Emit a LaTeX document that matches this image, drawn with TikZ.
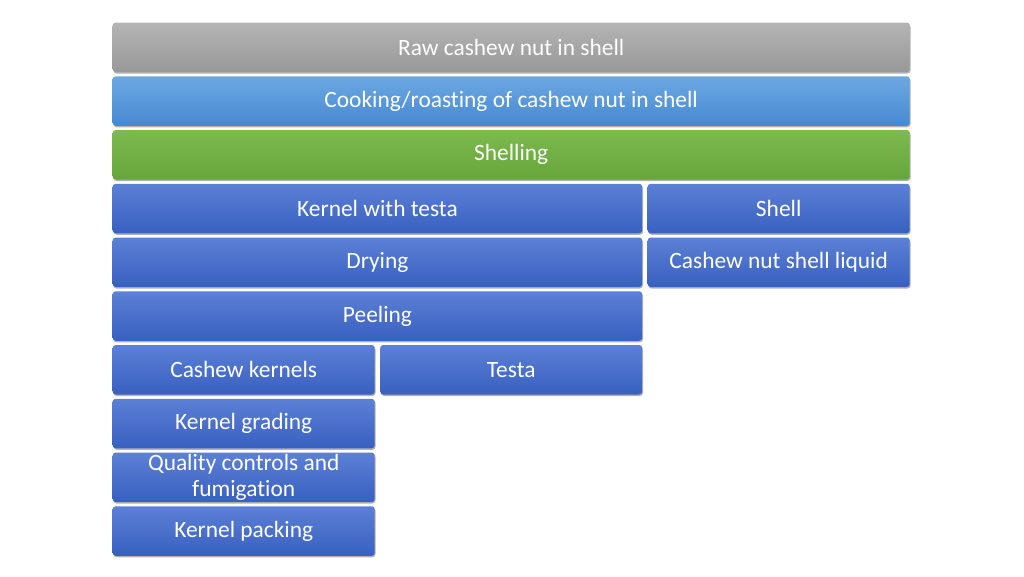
\documentclass[tikz,border=0pt]{standalone}
\usepackage{fontspec}
\setmainfont{Carlito}[Ligatures=NoCommon]
\usetikzlibrary{shadows}
\newcommand{\pitch}{53.75}
\newcommand{\htop}{22.3}

\definecolor{greytop}{HTML}{B4B4B4}
\definecolor{greybot}{HTML}{989898}
\definecolor{skytop}{HTML}{6CA8E2}
\definecolor{skybot}{HTML}{4689D2}
\definecolor{greentop}{HTML}{7DBA50}
\definecolor{greenbot}{HTML}{65A53A}
\definecolor{bluetop}{HTML}{5C80D6}
\definecolor{bluebot}{HTML}{3860C0}

\begin{document}
\begin{tikzpicture}[x=1pt, y=-1pt,
    box/.style={rectangle, anchor=north west, rounded corners=3pt, minimum height=49.5pt, inner sep=0pt,
        text=white, font=\fontsize{23.4}{26}\selectfont, align=center,
        drop shadow={shadow xshift=0.8pt, shadow yshift=-1.5pt, opacity=0.3, fill=black}},
    greybox/.style={box, top color=greytop, bottom color=greybot},
    skybox/.style={box, top color=skytop, bottom color=skybot},
    greenbox/.style={box, top color=greentop, bottom color=greenbot},
    bluebox/.style={box, top color=bluetop, bottom color=bluebot}]
    \useasboundingbox (0,0) rectangle (1024,576);

    % Full rows
    \node[greybox, minimum width=797pt] (raw) at (112.5,\htop) {Raw cashew nut in shell};
    \node[skybox, minimum width=797pt] (cook) at (112.5,\htop+1*\pitch) {Cooking/roasting of cashew nut in shell};
    \node[greenbox, minimum width=797pt] (shelling) at (112.5,\htop+2*\pitch) {Shelling};

    % Kernel and shell
    \node[bluebox, minimum width=529.5pt] (kernel-testa) at (112.5,\htop+3*\pitch) {Kernel with testa};
    \node[bluebox, minimum width=262pt] (shell) at (647.5,\htop+3*\pitch) {Shell};
    \node[bluebox, minimum width=529.5pt] (drying) at (112.5,\htop+4*\pitch) {Drying};
    \node[bluebox, minimum width=262pt] (cnsl) at (647.5,\htop+4*\pitch) {Cashew nut shell liquid};
    \node[bluebox, minimum width=529.5pt] (peeling) at (112.5,\htop+5*\pitch) {Peeling};

    % Kernels and testa
    \node[bluebox, minimum width=262pt] (kernels) at (112.5,\htop+6*\pitch) {Cashew kernels};
    \node[bluebox, minimum width=262pt] (testa) at (380,\htop+6*\pitch) {Testa};
    \node[bluebox, minimum width=262pt] (grading) at (112.5,\htop+7*\pitch) {Kernel grading};
    \node[bluebox, minimum width=262pt] (quality) at (112.5,\htop+8*\pitch) {Quality controls and\\fumigation};
    \node[bluebox, minimum width=262pt] (packing) at (112.5,\htop+9*\pitch) {Kernel packing};

\end{tikzpicture}
\end{document}
